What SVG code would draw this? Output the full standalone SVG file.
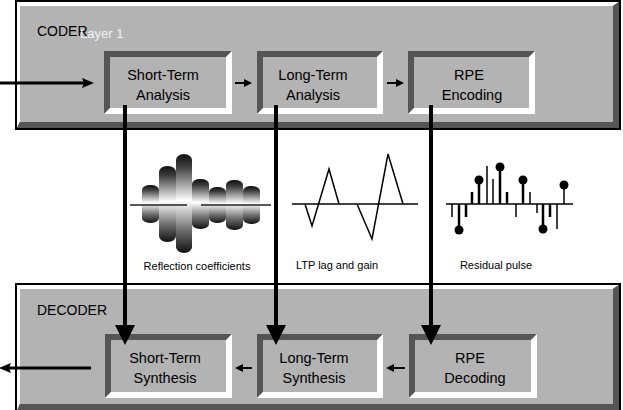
<svg xmlns="http://www.w3.org/2000/svg" width="623" height="410" viewBox="0 0 623 410">
<style>
  .panelFill { fill: #b3b3b3; }
  .hi { fill: #ffffff; }
  .lo { fill: #555555; }
  .frame { fill: #000000; }
  .lbl { font-family: "Liberation Sans", Arial, sans-serif; font-size: 14.5px; fill: #000; text-anchor: middle; }
  .ttl { font-family: "Liberation Sans", Arial, sans-serif; font-size: 14px; fill: #000; }
  .cap { font-family: "Liberation Sans", Arial, sans-serif; font-size: 11px; fill: #000; text-anchor: middle; }
  .big { stroke: #000; stroke-width: 4; fill: none; }
  .io { stroke: #000; stroke-width: 3; fill: none; }
  .small { stroke: #000; stroke-width: 2; fill: none; }
  .axis { stroke: #000; stroke-width: 1.5; fill: none; }
  .stem { stroke: #000; stroke-width: 1.5; }
  .stemB { stroke: #000; stroke-width: 2.5; }
  .dot { fill: #000; }
  .bar { fill: url(#barGrad); }
</style>
<defs>
  <marker id="bigHead" markerUnits="userSpaceOnUse" viewBox="0 0 20 20" markerWidth="20" markerHeight="20" refX="10" refY="10" orient="auto">
    <path d="M0,0 L20,10 L0,20 z" fill="#000"/>
  </marker>
  <marker id="ioHead" markerUnits="userSpaceOnUse" viewBox="0 0 12 10" markerWidth="12" markerHeight="10" refX="4" refY="5" orient="auto">
    <path d="M0,0 L12,5 L0,10 L2,5 z" fill="#000"/>
  </marker>
  <marker id="smallHead" markerUnits="userSpaceOnUse" viewBox="0 0 8 8" markerWidth="8" markerHeight="8" refX="3" refY="4" orient="auto">
    <path d="M0,0 L8,4 L0,8 z" fill="#000"/>
  </marker>
  <linearGradient id="barGrad" x1="0" y1="0" x2="0" y2="1">
    <stop offset="0" stop-color="#111"/>
    <stop offset="0.12" stop-color="#3a3a3a"/>
    <stop offset="0.47" stop-color="#ffffff"/>
    <stop offset="0.52" stop-color="#e6e6e6"/>
    <stop offset="0.75" stop-color="#777"/>
    <stop offset="1" stop-color="#111"/>
  </linearGradient>
</defs>

<!-- CODER panel -->
<g id="coder">
  <rect class="frame" x="15" y="0" width="606" height="130"/>
  <polygon class="hi" points="17,2 619,2 613,6 20,6 20,122 17,128"/>
  <polygon class="lo" points="619,2 619,128 17,128 20,122 613,122 613,6"/>
  <rect class="panelFill" x="20" y="6" width="593" height="116"/>
  <text class="ttl" x="37" y="36">CODER</text>
  <text class="ttl" x="80" y="38" style="fill:#f2f2f2;font-size:13px">Layer 1</text>
</g>

<!-- DECODER panel -->
<g id="decoder">
  <rect class="frame" x="15" y="283" width="606" height="132"/>
  <polygon class="hi" points="17,285 619,285 613,289 20,289 20,404 17,411"/>
  <polygon class="lo" points="619,285 619,411 17,411 20,404 613,404 613,289"/>
  <rect class="panelFill" x="20" y="289" width="593" height="115"/>
  <text class="ttl" x="37" y="315">DECODER</text>
</g>

<!-- Coder blocks -->
<g id="sta">
  <polygon class="lo" points="104,51 232,51 226,57 110,57 110,108 104,114"/>
  <polygon class="hi" points="232,51 232,114 104,114 110,108 226,108 226,57"/>
  <rect class="panelFill" x="110" y="57" width="116" height="51"/>
  <text class="lbl" x="163" y="80">Short-Term</text>
  <text class="lbl" x="163" y="100">Analysis</text>
</g>
<g id="lta">
  <polygon class="lo" points="257,51 383,51 377,57 263,57 263,108 257,114"/>
  <polygon class="hi" points="383,51 383,114 257,114 263,108 377,108 377,57"/>
  <rect class="panelFill" x="263" y="57" width="114" height="51"/>
  <text class="lbl" x="313" y="80">Long-Term</text>
  <text class="lbl" x="313" y="100">Analysis</text>
</g>
<g id="rpee">
  <polygon class="lo" points="408,51 535,51 529,57 414,57 414,108 408,114"/>
  <polygon class="hi" points="535,51 535,114 408,114 414,108 529,108 529,57"/>
  <rect class="panelFill" x="414" y="57" width="115" height="51"/>
  <text class="lbl" x="469" y="80">RPE</text>
  <text class="lbl" x="472" y="100">Encoding</text>
</g>

<!-- Decoder blocks -->
<g id="sts">
  <polygon class="lo" points="105,334 232,334 226,340 111,340 111,392 105,398"/>
  <polygon class="hi" points="232,334 232,398 105,398 111,392 226,392 226,340"/>
  <rect class="panelFill" x="111" y="340" width="115" height="52"/>
  <text class="lbl" x="165" y="363">Short-Term</text>
  <text class="lbl" x="165" y="383">Synthesis</text>
</g>
<g id="lts">
  <polygon class="lo" points="257,334 383,334 377,340 263,340 263,392 257,398"/>
  <polygon class="hi" points="383,334 383,398 257,398 263,392 377,392 377,340"/>
  <rect class="panelFill" x="263" y="340" width="114" height="52"/>
  <text class="lbl" x="314" y="363">Long-Term</text>
  <text class="lbl" x="314" y="383">Synthesis</text>
</g>
<g id="rped">
  <polygon class="lo" points="409,334 537,334 531,340 415,340 415,392 409,398"/>
  <polygon class="hi" points="537,334 537,398 409,398 415,392 531,392 531,340"/>
  <rect class="panelFill" x="415" y="340" width="116" height="52"/>
  <text class="lbl" x="470" y="363">RPE</text>
  <text class="lbl" x="475" y="383">Decoding</text>
</g>

<!-- Illustrations -->
<g id="reflection">
  <rect class="bar" x="142" y="185" width="17" height="38" rx="8" ry="5"/>
  <rect class="bar" x="159" y="166" width="17" height="76" rx="8" ry="6"/>
  <rect class="bar" x="176" y="154" width="16" height="99" rx="8" ry="6"/>
  <rect class="bar" x="192" y="179" width="17" height="50" rx="8" ry="5"/>
  <rect class="bar" x="209" y="187" width="17" height="36" rx="8" ry="5"/>
  <rect class="bar" x="226" y="180" width="17" height="50" rx="8" ry="5"/>
  <rect class="bar" x="243" y="186" width="17" height="38" rx="8" ry="5"/>
  <line x1="130" y1="205" x2="187" y2="205" stroke="#222" stroke-width="1.5"/>
  <line x1="201" y1="205" x2="271" y2="205" stroke="#222" stroke-width="1.5"/>
  <text class="cap" x="197" y="270">Reflection coefficients</text>
</g>
<g id="ltp">
  <line class="axis" x1="292" y1="204" x2="418" y2="204"/>
  <polyline class="axis" points="305,204 312,226 329,169 339,204"/>
  <polyline class="axis" points="357,204 372,239 388,154 403,204"/>
  <text class="cap" x="337" y="269">LTP lag and gain</text>
</g>
<g id="residual">
  <line class="axis" x1="446" y1="204" x2="573" y2="204"/>
  <line class="stem" x1="452" y1="204" x2="452" y2="217"/>
  <line class="stemB" x1="459" y1="204" x2="459" y2="230"/>
  <circle class="dot" cx="459" cy="230" r="4.5"/>
  <line class="stemB" x1="466" y1="204" x2="466" y2="217"/>
  <line class="stemB" x1="472" y1="204" x2="472" y2="192"/>
  <line class="stemB" x1="479" y1="204" x2="479" y2="180"/>
  <circle class="dot" cx="479" cy="180" r="4.5"/>
  <line class="stem" x1="487" y1="204" x2="487" y2="166"/>
  <line class="stem" x1="493" y1="204" x2="493" y2="179"/>
  <line class="stemB" x1="500" y1="204" x2="500" y2="167"/>
  <circle class="dot" cx="500" cy="167" r="4.5"/>
  <line class="stemB" x1="507" y1="204" x2="507" y2="192"/>
  <line class="stem" x1="516" y1="204" x2="516" y2="217"/>
  <line class="stemB" x1="523" y1="204" x2="523" y2="180"/>
  <circle class="dot" cx="523" cy="180" r="4.5"/>
  <line class="stem" x1="530" y1="204" x2="530" y2="192"/>
  <line class="stem" x1="537" y1="204" x2="537" y2="213"/>
  <line class="stemB" x1="543" y1="204" x2="543" y2="229"/>
  <circle class="dot" cx="543" cy="229" r="4.5"/>
  <line class="stemB" x1="550" y1="204" x2="550" y2="217"/>
  <line class="stem" x1="557" y1="204" x2="557" y2="229"/>
  <line class="stem" x1="564" y1="204" x2="564" y2="185"/>
  <circle class="dot" cx="564" cy="185" r="4.5"/>
  <text class="cap" x="496" y="269">Residual pulse</text>
</g>

<!-- Connectors -->
<g id="connectors">
  <line class="io" x1="0" y1="83" x2="86" y2="83" marker-end="url(#ioHead)"/>
  <line class="small" x1="235" y1="83" x2="247" y2="83" marker-end="url(#smallHead)"/>
  <line class="small" x1="387" y1="83" x2="399" y2="83" marker-end="url(#smallHead)"/>
  <line class="big" x1="125" y1="105" x2="125" y2="335" marker-end="url(#bigHead)"/>
  <line class="big" x1="276" y1="105" x2="276" y2="335" marker-end="url(#bigHead)"/>
  <line class="big" x1="431" y1="105" x2="431" y2="335" marker-end="url(#bigHead)"/>
  <line class="small" x1="405" y1="368" x2="391" y2="368" marker-end="url(#smallHead)"/>
  <line class="small" x1="252" y1="368" x2="240" y2="368" marker-end="url(#smallHead)"/>
  <line class="io" x1="91" y1="368" x2="7" y2="368" marker-end="url(#ioHead)"/>
</g>
</svg>
